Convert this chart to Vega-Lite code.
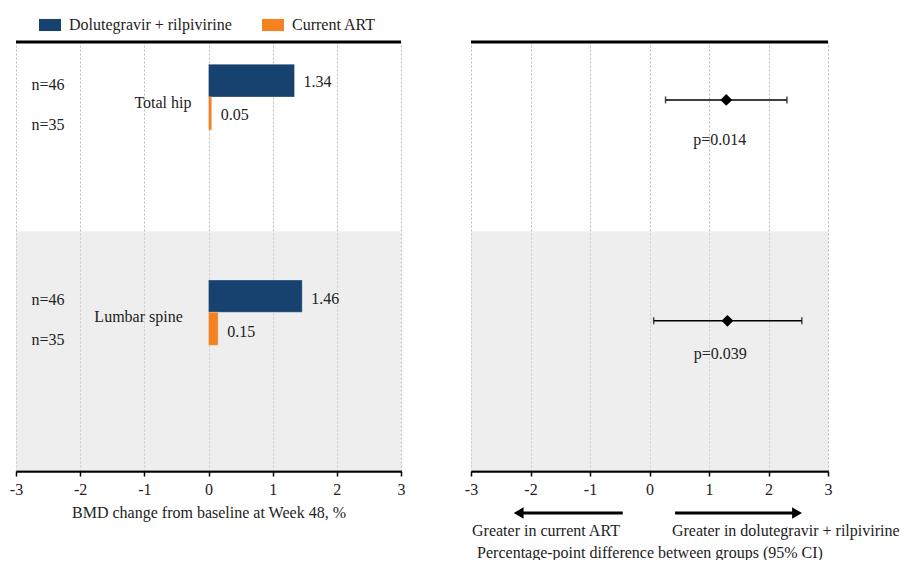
{
  "$schema": "https://vega.github.io/schema/vega-lite/v6.json",
  "padding": {"left": 9, "top": 14, "right": 0, "bottom": 0},
  "background": "white",
  "spacing": 70,
  "bounds": "flush",
  "config": {
    "font": "'Liberation Serif', 'DejaVu Serif', serif",
    "view": {"stroke": null},
    "axis": {
      "domainColor": "black", "domainWidth": 2.5, "tickColor": "black", "tickWidth": 1.5, "tickSize": 5,
      "labelFont": "'Liberation Serif', 'DejaVu Serif', serif", "labelFontSize": 16, "labelColor": "#222", "labelPadding": 5,
      "titleFont": "'Liberation Serif', 'DejaVu Serif', serif", "titleFontSize": 16, "titleFontWeight": "normal", "titleColor": "#222",
      "gridColor": "#b8b8b8", "gridDash": [2, 2], "gridWidth": 1, "labelFlush": false
    },
    "legend": {"labelFont": "'Liberation Serif', 'DejaVu Serif', serif", "labelLimit": 400},
    "text": {"font": "'Liberation Serif', 'DejaVu Serif', serif", "fontSize": 16, "color": "#222"}
  },
  "resolve": {"scale": {"color": "independent"}, "legend": {"color": "independent"}},
  "datasets": {
    "bars": [
      {"site": "Total hip", "group": "Dolutegravir + rilpivirine", "value": 1.34, "top": 5.2, "bottom": 12.8, "mid": 9.4},
      {"site": "Total hip", "group": "Current ART", "value": 0.05, "top": 12.8, "bottom": 20.5, "mid": 17.0},
      {"site": "Lumbar spine", "group": "Dolutegravir + rilpivirine", "value": 1.46, "top": 55.5, "bottom": 63.0, "mid": 59.8},
      {"site": "Lumbar spine", "group": "Current ART", "value": 0.15, "top": 63.0, "bottom": 70.7, "mid": 67.6}
    ],
    "nlabels": [
      {"label": "n=46", "x": -2.5, "y": 10.0},
      {"label": "n=35", "x": -2.5, "y": 19.3},
      {"label": "n=46", "x": -2.5, "y": 60.1},
      {"label": "n=35", "x": -2.5, "y": 69.5},
      {"label": "Total hip", "x": -0.71, "y": 14.3},
      {"label": "Lumbar spine", "x": -1.09, "y": 64.1}
    ],
    "band": [{"x0": -3, "x1": 3, "y0": 44.1, "y1": 100}],
    "frame": [{"x0": -3, "x1": 3, "y": 0}],
    "forest": [
      {"site": "Total hip", "diff": 1.29, "lo": 0.27, "hi": 2.31, "y": 13.5, "p": "p=0.014", "px": 1.18, "py": 22.8},
      {"site": "Lumbar spine", "diff": 1.31, "lo": 0.07, "hi": 2.56, "y": 65.0, "p": "p=0.039", "px": 1.19, "py": 72.7}
    ],
    "arrows": [
      {"x0": -2.2, "x1": -0.45, "head": -2.2, "shape": "triangle-left", "y": 109.8, "text": "Greater in current ART", "tx": -1.74, "ty": 114.0},
      {"x0": 0.43, "x1": 2.48, "head": 2.48, "shape": "triangle-right", "y": 109.8, "text": "Greater in dolutegravir + rilpivirine", "tx": 2.29, "ty": 114.0}
    ]
  },
  "hconcat": [
    {
      "width": 385,
      "height": 429,
      "layer": [
        {
          "data": {"name": "band"},
          "mark": {"type": "rect", "color": "#dcdedc", "opacity": 0.5},
          "encoding": {
            "x": {"field": "x0", "type": "quantitative", "scale": {"domain": [-3, 3], "nice": false},
                  "axis": {"values": [-3, -2, -1, 0, 1, 2, 3], "grid": true, "labelExpr": "'' + datum.value", "title": "BMD change from baseline at Week 48, %", "titlePadding": 7}},
            "x2": {"field": "x1"},
            "y": {"field": "y0", "type": "quantitative", "scale": {"domain": [0, 100], "reverse": true, "nice": false, "zero": false}, "axis": null},
            "y2": {"field": "y1"}
          }
        },
        {
          "data": {"name": "bars"},
          "mark": {"type": "bar", "stroke": "white", "strokeWidth": 0.5, "strokeOpacity": 0.5},
          "encoding": {
            "x": {"field": "value", "type": "quantitative"},
            "x2": {"datum": 0},
            "y": {"field": "top", "type": "quantitative"},
            "y2": {"field": "bottom"},
            "color": {
              "field": "group", "type": "nominal",
              "scale": {"domain": ["Dolutegravir + rilpivirine", "Current ART"], "range": ["#17416f", "#f58220"]},
              "legend": {
                "orient": "none", "legendX": 23, "legendY": -28, "direction": "horizontal", "title": null,
                "symbolType": "M-1,-0.55H1V0.55H-1Z", "symbolSize": 484, "symbolStrokeWidth": 0,
                "labelFontSize": 16, "labelColor": "#222", "labelLimit": 400,
                "columnPadding": 30, "labelOffset": 8, "padding": 0
              }
            }
          }
        },
        {
          "data": {"name": "bars"},
          "mark": {"type": "text", "align": "left", "baseline": "middle", "dx": 9},
          "encoding": {
            "x": {"field": "value", "type": "quantitative"},
            "y": {"field": "mid", "type": "quantitative"},
            "text": {"field": "value", "type": "quantitative", "format": ".2f"}
          }
        },
        {
          "data": {"name": "nlabels"},
          "mark": {"type": "text", "align": "center", "baseline": "middle"},
          "encoding": {
            "x": {"field": "x", "type": "quantitative"},
            "y": {"field": "y", "type": "quantitative"},
            "text": {"field": "label"}
          }
        },
        {
          "mark": {"type": "rule", "color": "black", "strokeWidth": 2},
          "encoding": {"x": {"datum": 0}}
        },
        {
          "data": {"name": "frame"},
          "mark": {"type": "rule", "color": "black", "strokeWidth": 3},
          "encoding": {
            "x": {"field": "x0", "type": "quantitative"},
            "x2": {"field": "x1"},
            "y": {"field": "y", "type": "quantitative"}
          }
        }
      ]
    },
    {
      "width": 357,
      "height": 429,
      "layer": [
        {
          "data": {"name": "band"},
          "mark": {"type": "rect", "color": "#dcdedc", "opacity": 0.5},
          "encoding": {
            "x": {"field": "x0", "type": "quantitative", "scale": {"domain": [-3, 3], "nice": false},
                  "axis": {"values": [-3, -2, -1, 0, 1, 2, 3], "grid": true, "labelExpr": "'' + datum.value", "title": "Percentage-point difference between groups (95% CI)", "titlePadding": 47}},
            "x2": {"field": "x1"},
            "y": {"field": "y0", "type": "quantitative", "scale": {"domain": [0, 100], "reverse": true, "nice": false, "zero": false}, "axis": null},
            "y2": {"field": "y1"}
          }
        },
        {
          "mark": {"type": "rule", "color": "black", "strokeWidth": 2},
          "encoding": {"x": {"datum": 0}}
        },
        {
          "data": {"name": "frame"},
          "mark": {"type": "rule", "color": "black", "strokeWidth": 3},
          "encoding": {
            "x": {"field": "x0", "type": "quantitative"},
            "x2": {"field": "x1"},
            "y": {"field": "y", "type": "quantitative"}
          }
        },
        {
          "data": {"name": "forest"},
          "mark": {"type": "rule", "color": "black", "strokeWidth": 1.5},
          "encoding": {
            "x": {"field": "lo", "type": "quantitative"},
            "x2": {"field": "hi"},
            "y": {"field": "y", "type": "quantitative"}
          }
        },
        {
          "data": {"name": "forest"},
          "mark": {"type": "tick", "orient": "vertical", "color": "black", "size": 7, "thickness": 1.5},
          "encoding": {
            "x": {"field": "lo", "type": "quantitative"},
            "y": {"field": "y", "type": "quantitative"}
          }
        },
        {
          "data": {"name": "forest"},
          "mark": {"type": "tick", "orient": "vertical", "color": "black", "size": 7, "thickness": 1.5},
          "encoding": {
            "x": {"field": "hi", "type": "quantitative"},
            "y": {"field": "y", "type": "quantitative"}
          }
        },
        {
          "data": {"name": "forest"},
          "mark": {"type": "point", "shape": "diamond", "filled": true, "color": "black", "size": 140, "opacity": 1},
          "encoding": {
            "x": {"field": "diff", "type": "quantitative"},
            "y": {"field": "y", "type": "quantitative"}
          }
        },
        {
          "data": {"name": "forest"},
          "mark": {"type": "text", "align": "center", "baseline": "middle"},
          "encoding": {
            "x": {"field": "px", "type": "quantitative"},
            "y": {"field": "py", "type": "quantitative"},
            "text": {"field": "p"}
          }
        },
        {
          "data": {"name": "arrows"},
          "mark": {"type": "rule", "color": "black", "strokeWidth": 3},
          "encoding": {
            "x": {"field": "x0", "type": "quantitative"},
            "x2": {"field": "x1"},
            "y": {"field": "y", "type": "quantitative"}
          }
        },
        {
          "data": {"name": "arrows"},
          "mark": {"type": "point", "filled": true, "color": "black", "size": 130, "opacity": 1},
          "encoding": {
            "x": {"field": "head", "type": "quantitative"},
            "y": {"field": "y", "type": "quantitative"},
            "shape": {"field": "shape", "type": "nominal", "scale": null}
          }
        },
        {
          "data": {"name": "arrows"},
          "mark": {"type": "text", "align": "center", "baseline": "middle"},
          "encoding": {
            "x": {"field": "tx", "type": "quantitative"},
            "y": {"field": "ty", "type": "quantitative"},
            "text": {"field": "text"}
          }
        }
      ]
    }
  ]
}
